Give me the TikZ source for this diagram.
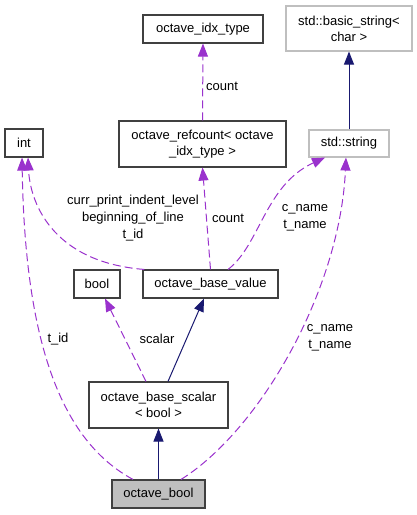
\documentclass[tikz,border=0pt]{standalone}
\usepackage{fontspec}
\setmainfont{Liberation Sans}
\usetikzlibrary{arrows.meta}
\definecolor{edgepurple}{HTML}{9A32CD}
\definecolor{edgenavy}{HTML}{191970}
\definecolor{boxborder}{HTML}{404040}
\definecolor{grayborder}{HTML}{BFBFBF}
\definecolor{fillgray}{HTML}{BFBFBF}
\begin{document}
\begin{tikzpicture}[x=1pt,y=-1pt,
  cls/.style={draw=boxborder, line width=1.1pt, rectangle, inner sep=0pt, align=center,
    font=\fontsize{13}{16}\selectfont, fill=white},
  ext/.style={cls, draw=grayborder},
  lbl/.style={align=center, inner sep=0pt, font=\fontsize{13}{17}\selectfont},
  use/.style={draw=edgepurple, line width=1pt, dash pattern=on 8pt off 4pt,
    -{Triangle[length=13pt,width=10pt]}},
  inh/.style={draw=edgenavy, line width=1pt, -{Triangle[length=13pt,width=10pt]}},
]
\useasboundingbox (0,0) rectangle (417,515);

\node[cls, minimum width=120, minimum height=28] (idx) at (203,29) {octave\_idx\_type};
\node[ext, minimum width=126, minimum height=45] (bs) at (349,28.5) {std::basic\_string<\\char >};
\node[cls, minimum width=38, minimum height=28] (int) at (24,143) {int};
\node[cls, minimum width=167, minimum height=46] (rc) at (202.5,144) {octave\_refcount< octave\\\_idx\_type >};
\node[ext, minimum width=80, minimum height=27] (str) at (349,143.5) {std::string};
\node[cls, minimum width=46, minimum height=28] (bool) at (97,284) {bool};
\node[cls, minimum width=135, minimum height=28] (bv) at (210.5,284) {octave\_base\_value};
\node[cls, minimum width=139, minimum height=46] (sc) at (158.5,405) {octave\_base\_scalar\\< bool >};
\node[cls, fill=fillgray, minimum width=93, minimum height=28] (ob) at (158.5,494) {octave\_bool};

% edges
\draw[use] (rc.north) -- (idx.south);
\draw[inh] (str.north) -- (bs.south);
\draw[use] ([xshift=2pt]bv.north west) .. controls (50,262) and (30,200) .. ([xshift=4pt]int.south);
\draw[use] (bv.north) -- (rc.south);
\draw[use] ([xshift=17.5pt]bv.north) .. controls (260,245) and (265,185) .. ([xshift=-24pt]str.south);
\draw[use] ([xshift=-12.5pt]sc.north) -- ([xshift=8pt]bool.south);
\draw[inh] ([xshift=9.5pt]sc.north) -- ([xshift=-6.5pt]bv.south);
\draw[inh] (ob.north) -- (sc.south);
\draw[use] ([xshift=-25.5pt]ob.north) .. controls (60,440) and (25,340) .. ([xshift=-2pt]int.south);
\draw[use] ([xshift=22.5pt]ob.north) .. controls (260,430) and (340,290) .. ([xshift=-3pt]str.south);

% labels
\node[lbl] (l1) at (222,86) {count};
\node[lbl] (l2) at (133,218) {curr\_print\_indent\_level\\beginning\_of\_line\\t\_id};
\node[lbl] (l3) at (228,218) {count};
\node[lbl] (l4) at (305,218) {c\_name\\t\_name};
\node[lbl] (l5) at (157,339) {scalar};
\node[lbl] (l6) at (58,339) {t\_id};
\node[lbl] (l7) at (330,338) {c\_name\\t\_name};
\end{tikzpicture}
\end{document}
